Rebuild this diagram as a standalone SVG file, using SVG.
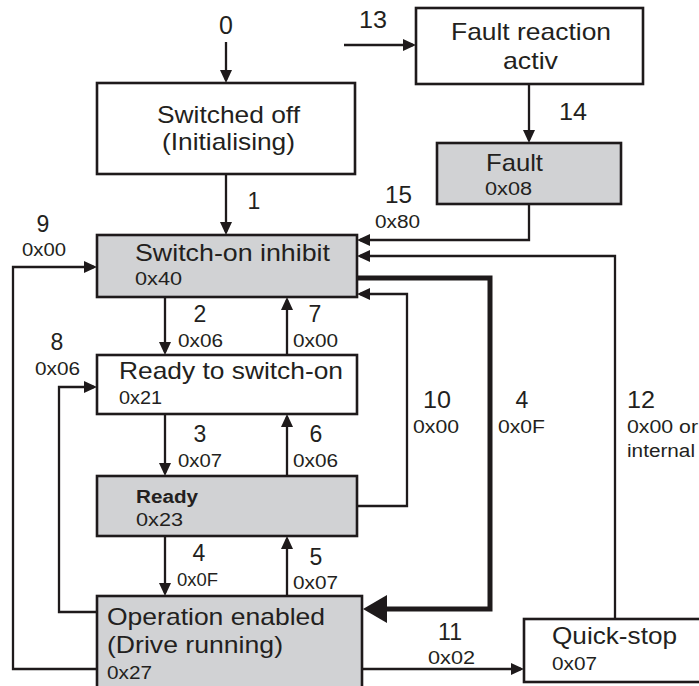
<svg xmlns="http://www.w3.org/2000/svg" width="699" height="686" viewBox="0 0 699 686">
<defs>
<style>
.box{stroke:#1e1a1b;stroke-width:2.6;fill:#ffffff}
.gray{fill:#d1d2d4}
.ln{fill:none;stroke:#1e1a1b;stroke-width:2.3;marker-end:url(#a)}
.thick{fill:none;stroke:#1e1a1b;stroke-width:5;marker-end:url(#b)}
text{font-family:"Liberation Sans",Arial,sans-serif;fill:#231f20}
.big{font-size:24px}
.num{font-size:23px}
.hex{font-size:18px}
.bold{font-size:18px;font-weight:bold}
.mid{text-anchor:middle}
</style>
<marker id="a" viewBox="0 0 13 12" refX="10" refY="6" markerWidth="13" markerHeight="12" orient="auto" markerUnits="userSpaceOnUse"><path d="M0,0 L13,6 L0,12 z" fill="#1e1a1b"/></marker>
<marker id="b" viewBox="0 0 24 28" refX="18" refY="14" markerWidth="24" markerHeight="28" orient="auto" markerUnits="userSpaceOnUse"><path d="M0,0 L24,14 L0,28 z" fill="#1e1a1b"/></marker>
</defs>
<rect width="699" height="686" fill="#ffffff"/>

<g id="connectors">
<path id="t0" class="ln" d="M226,42 V80"/>
<path id="t1" class="ln" d="M226,174 V232"/>
<path id="t13" class="ln" d="M344,45 H413"/>
<path id="t14" class="ln" d="M529,84 V140"/>
<path id="t15" class="ln" d="M529,204 V240 H360"/>
<path id="t12" class="ln" d="M615,619 V256 H360"/>
<path id="t4b" class="thick" d="M357,278 H490 V609 H369"/>
<path id="t10" class="ln" d="M357,506 H407 V294 H360"/>
<path id="t2" class="ln" d="M165,297 V352"/>
<path id="t7" class="ln" d="M287,355 V300"/>
<path id="t3" class="ln" d="M165,414 V473"/>
<path id="t6" class="ln" d="M287,476 V417"/>
<path id="t4" class="ln" d="M165,536 V593"/>
<path id="t5" class="ln" d="M287,596 V539"/>
<path id="t8" class="ln" d="M97,612 H59 V387 H94"/>
<path id="t9" class="ln" d="M97,669 H13 V267 H94"/>
<path id="t11" class="ln" d="M362,669 H521"/>
</g>

<g id="labels">
<text class="big mid" x="226" y="34" style="font-size:25px">0</text>
<text class="num mid" x="254" y="209">1</text>
<text class="num" x="359" y="28" textLength="28" lengthAdjust="spacingAndGlyphs">13</text>
<text class="num" x="559" y="120" textLength="28" lengthAdjust="spacingAndGlyphs">14</text>
<text class="num" x="385" y="203" textLength="27" lengthAdjust="spacingAndGlyphs">15</text>
<text class="hex" x="375" y="228" textLength="45" lengthAdjust="spacingAndGlyphs">0x80</text>
<text class="num mid" x="43" y="232">9</text>
<text class="hex" x="22" y="256" textLength="44" lengthAdjust="spacingAndGlyphs">0x00</text>
<text class="num mid" x="200" y="322">2</text>
<text class="hex" x="178" y="347" textLength="45" lengthAdjust="spacingAndGlyphs">0x06</text>
<text class="num mid" x="315" y="322">7</text>
<text class="hex" x="293" y="347" textLength="45" lengthAdjust="spacingAndGlyphs">0x00</text>
<text class="num mid" x="57" y="350">8</text>
<text class="hex" x="35" y="375" textLength="45" lengthAdjust="spacingAndGlyphs">0x06</text>
<text class="num mid" x="200" y="442">3</text>
<text class="hex" x="178" y="467" textLength="44" lengthAdjust="spacingAndGlyphs">0x07</text>
<text class="num mid" x="316" y="442">6</text>
<text class="hex" x="293" y="467" textLength="45" lengthAdjust="spacingAndGlyphs">0x06</text>
<text class="num mid" x="199" y="561">4</text>
<text class="hex" x="177" y="586" textLength="41" lengthAdjust="spacingAndGlyphs">0x0F</text>
<text class="num mid" x="316" y="565">5</text>
<text class="hex" x="293" y="589" textLength="45" lengthAdjust="spacingAndGlyphs">0x07</text>
<text class="num" x="423" y="408" textLength="28" lengthAdjust="spacingAndGlyphs">10</text>
<text class="hex" x="413" y="433" textLength="46" lengthAdjust="spacingAndGlyphs">0x00</text>
<text class="num mid" x="522" y="408">4</text>
<text class="hex" x="498" y="433" textLength="47" lengthAdjust="spacingAndGlyphs">0x0F</text>
<text class="num" x="627" y="408" textLength="28" lengthAdjust="spacingAndGlyphs">12</text>
<text class="hex" x="627" y="433" textLength="71" lengthAdjust="spacingAndGlyphs">0x00 or</text>
<text class="hex" x="627" y="457" textLength="68" lengthAdjust="spacingAndGlyphs">internal</text>
<text class="num" x="438" y="640" textLength="24" lengthAdjust="spacingAndGlyphs">11</text>
<text class="hex" x="428" y="664" textLength="47" lengthAdjust="spacingAndGlyphs">0x02</text>
</g>

<g id="switched-off">
<rect class="box" x="97" y="83" width="258" height="91"/>
<text class="big" x="157" y="123" textLength="143" lengthAdjust="spacingAndGlyphs">Switched off</text>
<text class="big" x="162" y="150" textLength="133" lengthAdjust="spacingAndGlyphs">(Initialising)</text>
</g>

<g id="fault-reaction">
<rect class="box" x="416" y="8" width="227" height="76"/>
<text class="big" x="451" y="40" textLength="160" lengthAdjust="spacingAndGlyphs">Fault reaction</text>
<text class="big" x="503" y="69" textLength="55" lengthAdjust="spacingAndGlyphs">activ</text>
</g>

<g id="fault">
<rect class="box gray" x="437" y="143" width="184" height="61"/>
<text class="big" x="486" y="171" textLength="57" lengthAdjust="spacingAndGlyphs">Fault</text>
<text class="hex" x="485" y="195" textLength="47" lengthAdjust="spacingAndGlyphs">0x08</text>
</g>

<g id="switch-on-inhibit">
<rect class="box gray" x="97" y="235" width="260" height="62"/>
<text class="big" x="135" y="261" textLength="195" lengthAdjust="spacingAndGlyphs">Switch-on inhibit</text>
<text class="hex" x="135" y="285" textLength="47" lengthAdjust="spacingAndGlyphs">0x40</text>
</g>

<g id="ready-to-switch-on">
<rect class="box" x="97" y="355" width="260" height="59"/>
<text class="big" x="119" y="379" textLength="224" lengthAdjust="spacingAndGlyphs">Ready to switch-on</text>
<text class="hex" x="119" y="404" textLength="43" lengthAdjust="spacingAndGlyphs">0x21</text>
</g>

<g id="ready">
<rect class="box gray" x="97" y="476" width="260" height="60"/>
<text class="bold" x="136" y="503" textLength="62" lengthAdjust="spacingAndGlyphs">Ready</text>
<text class="hex" x="136" y="526" textLength="47" lengthAdjust="spacingAndGlyphs">0x23</text>
</g>

<g id="operation-enabled">
<rect class="box gray" x="97" y="596" width="265" height="96"/>
<text class="big" x="107" y="625" textLength="218" lengthAdjust="spacingAndGlyphs">Operation enabled</text>
<text class="big" x="107" y="653" textLength="176" lengthAdjust="spacingAndGlyphs">(Drive running)</text>
<text class="hex" x="107" y="679" textLength="45" lengthAdjust="spacingAndGlyphs">0x27</text>
</g>

<g id="quick-stop">
<rect class="box" x="524" y="619" width="190" height="63"/>
<text class="big" x="552" y="644" textLength="125" lengthAdjust="spacingAndGlyphs">Quick-stop</text>
<text class="hex" x="552" y="670" textLength="45" lengthAdjust="spacingAndGlyphs">0x07</text>
</g>
</svg>
